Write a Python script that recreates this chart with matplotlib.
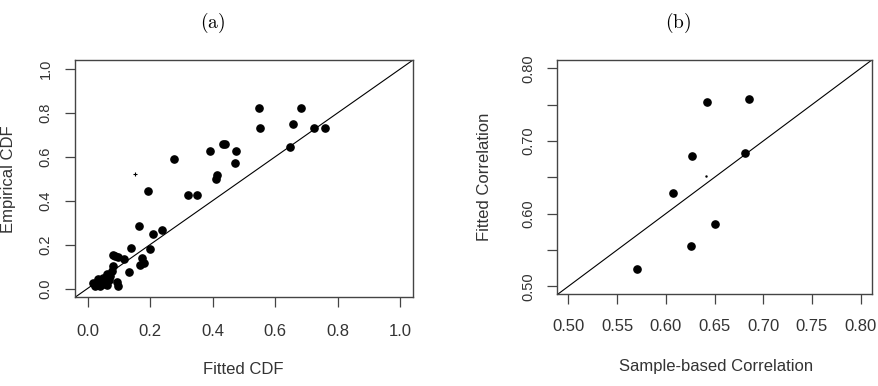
import numpy as np
import matplotlib
matplotlib.use("Agg")
import matplotlib.pyplot as plt

plt.rcParams['font.family'] = ['Liberation Sans', 'DejaVu Sans']
plt.rcParams['mathtext.fontset'] = 'cm'

# (a) fitted vs empirical CDF
fitted_cdf = [0.547, 0.550, 0.683, 0.656, 0.723, 0.760, 0.648, 0.433, 0.440, 0.390,
              0.475, 0.472, 0.275, 0.415, 0.410, 0.321, 0.350, 0.194, 0.166, 0.238,
              0.208, 0.139, 0.200, 0.174, 0.179, 0.168, 0.131,
              0.088, 0.083, 0.096, 0.115, 0.083, 0.078, 0.062, 0.051, 0.094, 0.096,
              0.019, 0.025, 0.041, 0.041, 0.057, 0.062, 0.035, 0.073, 0.030, 0.050, 0.068]
empirical_cdf = [0.823, 0.730, 0.823, 0.750, 0.730, 0.730, 0.644, 0.658, 0.658, 0.624,
                 0.624, 0.571, 0.591, 0.518, 0.500, 0.426, 0.426, 0.445, 0.286, 0.267,
                 0.247, 0.183, 0.182, 0.141, 0.118, 0.106, 0.073,
                 0.148, 0.151, 0.145, 0.133, 0.103, 0.080, 0.065, 0.050, 0.030, 0.012,
                 0.027, 0.012, 0.030, 0.012, 0.035, 0.015, 0.045, 0.055, 0.020, 0.022, 0.040]
cdf_mark = (0.152, 0.523)

# (b) sample-based vs fitted correlation
sample_corr = [0.570, 0.607, 0.626, 0.627, 0.642, 0.651, 0.6815, 0.685]
fitted_corr = [0.524, 0.628, 0.555, 0.680, 0.754, 0.586, 0.684, 0.758]
corr_mark = (0.641, 0.652)

a_ticks = [0.0, 0.2, 0.4, 0.6, 0.8, 1.0]
b_ticks = [0.50, 0.55, 0.60, 0.65, 0.70, 0.75, 0.80]
b_ylabels = ['0.50', '', '0.60', '', '0.70', '', '0.80']

W, H = 879, 386
fig = plt.figure(figsize=(W / 100, H / 100), dpi=100)

def box(l, t, r, b):
    return [l / W, 1 - b / H, (r - l) / W, (b - t) / H]

spine_col = '#444444'
text_col = '#333333'

def style(ax, xpad, ypad):
    for s in ax.spines.values():
        s.set_color(spine_col)
        s.set_linewidth(1.0)
    ax.tick_params(axis='both', direction='out', length=7, width=0.9, color=spine_col,
                   labelcolor=text_col)
    ax.tick_params(axis='x', labelsize=12, pad=xpad)
    ax.tick_params(axis='y', labelsize=10.5, pad=ypad, labelrotation=90)
    for lab in ax.get_yticklabels():
        lab.set_va('center')

# panel (a)
ax1 = fig.add_axes(box(75, 60, 413, 297.3))
ax1.plot([-0.04, 1.04], [-0.04, 1.04], color='black', lw=0.8)
ax1.plot(fitted_cdf, empirical_cdf, 'o', color='black', ms=5.2, mec='black')
ax1.plot(*cdf_mark, '+', color='black', ms=3, mew=0.8)
ax1.set_xlim(-0.04, 1.04)
ax1.set_ylim(-0.04, 1.04)
ax1.set_xticks(a_ticks)
ax1.set_xticklabels([f'{t:.1f}' for t in a_ticks])
ax1.set_yticks(a_ticks)
ax1.set_yticklabels([f'{t:.1f}' for t in a_ticks])
style(ax1, 12, 9)

# panel (b)
ax2 = fig.add_axes(box(556.7, 60, 872.3, 294.3))
ax2.plot([0.488, 0.812], [0.488, 0.812], color='black', lw=0.8)
ax2.plot(sample_corr, fitted_corr, 'o', color='black', ms=5.2, mec='black')
ax2.plot(*corr_mark, '.', color='black', ms=1.5)
ax2.set_xlim(0.488, 0.812)
ax2.set_ylim(0.489, 0.8115)
ax2.set_xticks(b_ticks)
ax2.set_xticklabels([f'{t:.2f}' for t in b_ticks])
ax2.set_yticks(b_ticks)
ax2.set_yticklabels(b_ylabels)
style(ax2, 11, 8.5)

# titles and axis labels
fig.text(212.5 / W, 1 - 23 / H, r'$\mathrm{(a)}$', ha='center', va='center', fontsize=14)
fig.text(678 / W, 1 - 23 / H, r'$\mathrm{(b)}$', ha='center', va='center', fontsize=14)
fig.text(243 / W, 1 - 370 / H, 'Fitted CDF', ha='center', va='center', fontsize=12, color=text_col)
fig.text(716 / W, 1 - 367 / H, 'Sample-based Correlation', ha='center', va='center',
         fontsize=12, color=text_col)
fig.text(9 / W, 1 - 179 / H, 'Empirical CDF', ha='center', va='center', rotation=90,
         fontsize=12, color=text_col)
fig.text(485 / W, 1 - 177 / H, 'Fitted Correlation', ha='center', va='center', rotation=90,
         fontsize=12, color=text_col)

fig.savefig('out.png', dpi=100)
